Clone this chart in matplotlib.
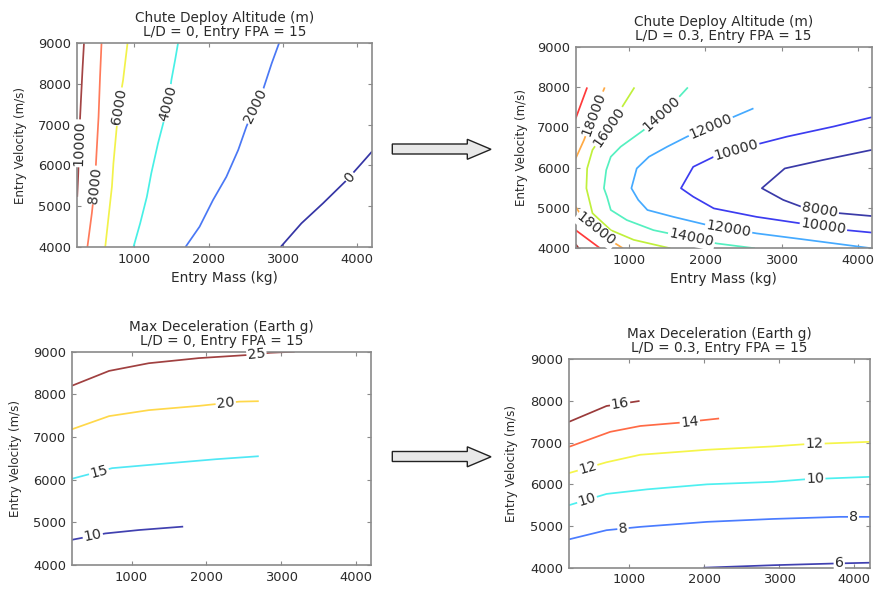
import numpy as np
import matplotlib.pyplot as plt
from matplotlib.patches import Polygon

# ---- top left: chute deploy altitude, L/D = 0
tl_levels = [0, 2000, 4000, 6000, 8000, 10000]
tl_colors = ['#3535a5', '#4a78f5', '#48f0e6', '#f2f24a', '#ff7a5a', '#a34444']
tl_x = [[2970, 3250, 3540, 3860, 4060, 4200],
        [1690, 1880, 2060, 2240, 2400, 2510, 2620, 2740, 2850, 2950],
        [990, 1080, 1170, 1230, 1320, 1390, 1460, 1500, 1550, 1590],
        [610, 650, 700, 720, 790, 850, 910],
        [370, 430, 470, 490, 520, 540, 560],
        [233, 247, 270, 283, 306, 324]]
tl_y = [[4000, 4580, 5070, 5640, 6050, 6340],
        [4000, 4500, 5150, 5720, 6380, 6950, 7440, 7890, 8500, 9000],
        [4000, 4580, 5230, 5810, 6540, 7030, 7520, 8090, 8580, 9000],
        [4000, 4660, 5480, 6050, 7440, 8090, 9000],
        [4000, 4830, 5520, 6210, 7190, 8170, 9000],
        [5230, 5810, 7110, 7600, 8420, 9000]]
tl_lab_line = [0, 1, 2, 3, 4, 5]
tl_lab_x = [3900, 2650, 1460, 800, 470, 270]
tl_lab_y = [5720, 7440, 7520, 7440, 5520, 6540]

# ---- top right: chute deploy altitude, L/D = 0.3
tr_levels = [8000, 10000, 12000, 14000, 16000, 18000, 18000, 20000, 20000, 22000]
tr_colors = ['#3a3aa8', '#3c3cf0', '#45aaff', '#55f0c0', '#c0f03c',
             '#ffaa44', '#ffaa44', '#ff3a3a', '#ff3a3a', '#a03030']
tr_x = [[4180, 3540, 3040, 2740, 3020, 3260, 3760, 4180],
        [4180, 3680, 3070, 2720, 2110, 1840, 1680, 1840, 2110, 2670, 3240, 3850, 4180],
        [2630, 2320, 1760, 1500, 1260, 1100, 1030, 1120, 1240, 1580, 2020, 2670, 3330, 4180],
        [1770, 1580, 1190, 890, 760, 700, 670, 710, 760, 970, 1320, 2150, 2650],
        [1070, 910, 520, 450, 440, 520, 760, 1060, 1540],
        [300, 410, 540, 680],
        [300, 410, 710, 920],
        [300, 450],
        [300, 620],
        [300, 340]]
tr_y = [[6440, 6190, 5980, 5490, 5200, 5030, 4870, 4800],
        [7250, 7020, 6770, 6600, 6270, 6020, 5490, 5280, 4990, 4780, 4620, 4450, 4390],
        [7470, 7220, 6770, 6520, 6270, 5980, 5490, 5200, 4950, 4780, 4580, 4370, 4210, 4000],
        [7990, 7600, 6930, 6520, 6270, 5940, 5490, 5280, 4950, 4700, 4450, 4120, 4000],
        [7990, 7510, 6440, 5980, 5490, 4870, 4450, 4210, 4000],
        [6230, 6690, 7350, 7990],
        [5030, 4700, 4250, 4000],
        [7220, 7990],
        [4450, 4000],
        [4100, 4000]]
tr_lab_line = [5, 4, 3, 2, 1, 0, 1, 2, 3, 6]
tr_lab_x = [582, 733, 1431, 2062, 2411, 3500, 3544, 2302, 1819, 559]
tr_lab_y = [7306, 7016, 7348, 7058, 6396, 4950, 4496, 4454, 4273, 4454]

# ---- bottom left: max deceleration, L/D = 0
bl_levels = [10, 15, 20, 25]
bl_colors = ['#4040b0', '#50e8f5', '#ffd84a', '#a04040']
bl_x = [[200, 650, 1100, 1690],
        [200, 740, 1460, 2130, 2700],
        [200, 700, 1230, 1900, 2440, 2700],
        [200, 700, 1230, 1900, 2530, 2850, 3180]]
bl_y = [[4590, 4740, 4820, 4900],
        [6020, 6270, 6380, 6480, 6550],
        [7180, 7490, 7630, 7730, 7830, 7840],
        [8200, 8550, 8730, 8850, 8920, 8975, 9000]]
bl_lab_line = [0, 1, 2, 3]
bl_lab_x = [480, 560, 2260, 2670]
bl_lab_y = [4700, 6210, 7775, 8940]

# ---- bottom right: max deceleration, L/D = 0.3
br_levels = [6, 8, 10, 12, 14, 16]
br_colors = ['#4040b0', '#4a7cff', '#4ef0f0', '#f5f54a', '#ff6a45', '#9a3a3a']
br_x = [[1990, 2920, 3720, 4210],
        [200, 700, 1150, 2040, 2920, 3810, 4210],
        [200, 700, 1240, 2040, 2920, 3340, 4210],
        [200, 700, 1150, 2040, 2920, 3320, 4210],
        [200, 750, 1150, 1680, 2200],
        [200, 700, 1140]]
br_y = [[4000, 4060, 4100, 4120],
        [4680, 4900, 4980, 5100, 5170, 5220, 5220],
        [5500, 5770, 5880, 6000, 6060, 6120, 6180],
        [6270, 6530, 6710, 6830, 6910, 6960, 7020],
        [6900, 7260, 7400, 7480, 7580],
        [7500, 7880, 8000]]
br_lab_line = [5, 4, 3, 3, 2, 2, 1, 1, 0]
br_lab_x = [880, 1810, 450, 3470, 440, 3480, 920, 3990, 3800]
br_lab_y = [7935, 7500, 6380, 6985, 5630, 6130, 4930, 5210, 4105]

W, H = 875, 590
TXT = '#2a2a2a'
GRID = '#8a8a8a'

fig = plt.figure(figsize=(W / 100, H / 100), dpi=100)


def box(l, t, r, b):
    return [l / W, 1 - b / H, (r - l) / W, (b - t) / H]


def draw_panel(rect, xlim, levels, colors, xs, ys, lab_line, lab_x, lab_y,
               title, xlabel, ylab_x):
    ax = fig.add_axes(rect)
    ax.set_xlim(*xlim)
    ax.set_ylim(4000, 9000)
    ax.set_xticks([1000, 2000, 3000, 4000])
    ax.set_yticks([4000, 5000, 6000, 7000, 8000, 9000])
    ax.tick_params(direction='in', top=True, right=True, length=3,
                   color=GRID, labelcolor=TXT, labelsize=9.4, pad=4)
    for s in ax.spines.values():
        s.set_color(GRID)
        s.set_linewidth(1.2)
    for c, x, y in zip(colors, xs, ys):
        ax.plot(x, y, color=c, lw=1.25, solid_capstyle='butt')
    # contour labels, rotated along the line
    for i, lx, ly in zip(lab_line, lab_x, lab_y):
        pts = ax.transData.transform(np.column_stack([xs[i], ys[i]]))
        p = ax.transData.transform((lx, ly))
        best = None
        for a, b in zip(pts[:-1], pts[1:]):
            d = b - a
            t = np.clip(np.dot(p - a, d) / np.dot(d, d), 0, 1)
            q = a + t * d
            dist = np.hypot(*(p - q))
            if best is None or dist < best[0]:
                best = (dist, q, d)
        _, q, d = best
        ang = np.degrees(np.arctan2(d[1], d[0]))
        if ang > 90:
            ang -= 180
        if ang <= -90:
            ang += 180
        qx, qy = ax.transData.inverted().transform(q)
        ax.text(qx, qy, str(levels[i]), rotation=ang, rotation_mode='anchor',
                ha='center', va='center', fontsize=10.3, color=TXT, zorder=5,
                bbox=dict(boxstyle='square,pad=0.08', fc='white', ec='none'))
    ax.set_title(title, fontsize=9.8, color=TXT, linespacing=1.0, pad=5)
    if xlabel:
        ax.set_xlabel(xlabel, fontsize=9.8, color=TXT)
        ax.xaxis.set_label_coords(0.5, -0.118)
    ax.set_ylabel('Entry Velocity (m/s)', fontsize=8.6, color=TXT)
    ax.yaxis.set_label_coords(ylab_x, 0.5)
    return ax


draw_panel(box(77, 43, 372, 247), (230, 4200), tl_levels, tl_colors, tl_x, tl_y,
           tl_lab_line, tl_lab_x, tl_lab_y,
           'Chute Deploy Altitude (m)\nL/D = 0, Entry FPA = 15', 'Entry Mass (kg)', -0.17)
draw_panel(box(575.7, 46.7, 871.7, 248.3), (300, 4180), tr_levels, tr_colors, tr_x, tr_y,
           tr_lab_line, tr_lab_x, tr_lab_y,
           'Chute Deploy Altitude (m)\nL/D = 0.3, Entry FPA = 15', 'Entry Mass (kg)', -0.162)
draw_panel(box(71.7, 351.7, 371, 565), (200, 4200), bl_levels, bl_colors, bl_x, bl_y,
           bl_lab_line, bl_lab_x, bl_lab_y,
           'Max Deceleration (Earth g)\nL/D = 0, Entry FPA = 15', None, -0.167)
draw_panel(box(569, 359.3, 870, 567.7), (200, 4210), br_levels, br_colors, br_x, br_y,
           br_lab_line, br_lab_x, br_lab_y,
           'Max Deceleration (Earth g)\nL/D = 0.3, Entry FPA = 15', None, -0.17)

# block arrows between the panels
for dy in [0, 307.5]:
    pts = [(392.3, 144), (467.3, 144), (467.3, 139.3), (491, 149.3), (467.3, 159.3),
           (467.3, 154), (392.3, 154)]
    pts = [(px / W, 1 - (py + dy) / H) for px, py in pts]
    fig.patches.append(Polygon(pts, closed=True, transform=fig.transFigure,
                               fc='#e8e8e8', ec='#222222', lw=1.0))

fig.savefig('out.png', dpi=100)
